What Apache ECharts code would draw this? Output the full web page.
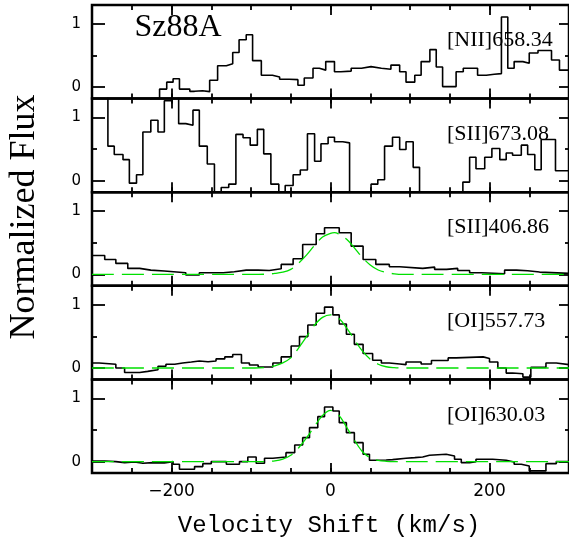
<!DOCTYPE html>
<html>
<head>
<meta charset="utf-8">
<script src="https://cdn.jsdelivr.net/npm/echarts@6/dist/echarts.min.js"></script>
<style>
  html, body { margin: 0; padding: 0; background: #fff; }
  #chart { width: 569px; height: 544px; }
</style>
</head>
<body>
<div id="chart"></div>
<script>
// Tick values shared by every panel
const majorVelTicks = [-200, 0, 200];
const fluxTicks = [0, 1];
const fluxMidTicks = [0.5];

// Histograms: left bin edge (km/s) and normalized flux of that bin
const nii658Vel = [-300, -226, -215, -206, -198, -190, -177, -171, -161, -152, -142, -131, -123, -115, -106, -98, -87, -73, -64, -52, -41, -33, -22, -14, -6, 5, 13, 26, 39, 51, 64, 76, 87, 95, 106, 114, 125, 133, 141, 158, 167, 185, 196, 206, 215, 223, 231, 242, 250, 261, 278, 288];
const nii658Flux = [-0.4, -0.18, -0.03, 0.08, 0.135, -0.03, -0.065, -0.055, -0.07, 0.11, 0.34, 0.37, 0.55, 0.75, 0.83, 0.42, 0.19, 0.16, 0.125, 0.12, 0.03, 0.145, 0.3, 0.27, 0.405, 0.245, 0.255, 0.3, 0.325, 0.3, 0.285, 0.35, 0.245, 0.08, 0.19, 0.405, 0.595, 0.32, 0.01, 0.245, 0.3, 0.19, 0.205, 0.215, 1.11, 0.3, 0.405, 0.38, 0.54, 0.58, 0.43, 0.27];

const sii673Vel = [-300, -280, -272, -261, -253, -244, -236, -226, -217, -209, -200, -191, -182, -173, -165, -155, -146, -137.5, -128, -119, -110, -101, -92, -84, -75, -65, -57, -47, -38, -29, -20, -12, -3, 5, 15.5, 24, 51, 59.5, 68, 78, 87, 95, 104, 112, 166.5, 175, 183, 194, 203, 213, 221, 229, 240, 248, 257, 265, 283];
const sii673Flux = [1.6, 0.548, 0.415, 0.335, -0.037, 0.096, 0.771, 0.957, 0.771, 1.266, 1.6, 0.904, 0.878, 1.117, 0.548, 0.266, -0.4, -0.106, -0.053, 0.734, 0.681, 0.564, 0.814, 0.426, -0.053, -0.4, -0.074, 0.096, 0.17, 0.745, 0.309, 0.585, 0.69, 0.617, 0.6, -0.4, -0.053, 0.016, 0.548, 0.69, 0.495, 0.617, 0.213, -0.4, -0.02, 0.372, 0.19, 0.372, 0.51, 0.335, 0.44, 0.404, 0.564, 0.415, 0.176, 0.654, 0.16];

const sii407Vel = [-300, -284, -270, -255, -240, -226, -209, -182, -165, -135, -121, -106, -91, -77, -62, -47, -35, -18, -7.5, 11, 26, 41, 57, 74, 87, 116, 131, 146, 160, 175, 190, 219, 234, 248, 263];
const sii407Flux = [0.3, 0.237, 0.174, 0.095, 0.068, 0.053, 0.026, -0.01, 0.026, 0.042, 0.068, 0.068, 0.063, 0.089, 0.158, 0.247, 0.474, 0.642, 0.737, 0.658, 0.447, 0.237, 0.158, 0.121, 0.095, 0.116, 0.079, 0.095, 0.063, 0.026, 0.01, 0.068, 0.058, 0.037, 0.016];

const oi557Vel = [-300, -291, -270, -259, -240, -230, -217, -207, -196, -186, -175, -165, -154, -144, -133, -123, -112, -102, -91, -72.5, -62, -49.5, -39, -28.5, -18, -7.5, 3, 11, 20, 30, 41, 53, 64, 74, 87, 95, 114, 127, 148, 158, 192, 200, 210.5, 221, 229, 242, 252, 271, 284];
const oi557Flux = [0.08, 0.059, 0, -0.07, -0.053, -0.027, 0.027, 0.059, 0.08, 0.096, 0.112, 0.1, 0.112, 0.144, 0.176, 0.214, 0.08, 0.048, 0.016, 0.08, 0.176, 0.348, 0.497, 0.679, 0.866, 0.963, 0.84, 0.695, 0.535, 0.374, 0.23, 0.123, 0.08, 0.064, 0.053, 0.096, 0.064, 0.118, 0.16, 0.176, 0.15, 0.096, 0, -0.08, -0.09, -0.144, 0.01, 0.08, 0.053];

const oi630Vel = [-300, -284, -270, -259, -246.5, -236, -223.5, -209, -198, -190, -171, -160.6, -150, -131, -114.5, -104, -93.5, -83, -72.5, -56, -45, -35, -26.4, -16, -7.5, 3, 11, 20, 30, 41, 49, 59.5, 70, 78, 95, 106, 116, 124.5, 145.5, 156, 164.5, 175, 183, 204, 221, 231, 240, 250, 271, 284];
const oi630Flux = [0.01, 0, -0.016, -0.005, -0.026, -0.016, -0.02, 0, -0.042, -0.121, -0.079, -0.032, 0, -0.042, 0, 0.074, -0.026, 0.053, 0.074, 0.142, 0.263, 0.379, 0.537, 0.711, 0.863, 0.8, 0.616, 0.458, 0.3, 0.116, 0.021, 0.026, 0.032, 0.053, 0.063, 0.074, 0.1, 0.116, 0.089, 0.037, -0.016, 0, 0.037, 0.021, -0.005, -0.042, -0.068, -0.147, -0.032, 0];

// Fitted line profiles (green), sampled along velocity
const sii407FitVel = [-300, -90, -80, -70, -60, -50, -40, -30, -20, -10, 0, 5, 10, 20, 30, 40, 50, 60, 70, 80, 90, 300];
const sii407Fit = [0, 0, 0.005, 0.015, 0.035, 0.08, 0.18, 0.31, 0.46, 0.59, 0.65, 0.66, 0.64, 0.56, 0.42, 0.27, 0.15, 0.07, 0.03, 0.01, 0, 0];

const oi557FitVel = [-300, -100, -90, -80, -70, -60, -50, -40, -30, -20, -10, 0, 10, 20, 30, 40, 50, 60, 70, 80, 90, 300];
const oi557Fit = [0, 0, 0.003, 0.012, 0.035, 0.08, 0.16, 0.32, 0.5, 0.68, 0.8, 0.84, 0.79, 0.64, 0.45, 0.27, 0.14, 0.06, 0.02, 0.005, 0, 0];

const oi630FitVel = [-300, -90, -80, -70, -60, -50, -40, -30, -20, -10, 0, 10, 20, 30, 40, 50, 60, 70, 80, 300];
const oi630Fit = [0, 0, 0.003, 0.012, 0.04, 0.1, 0.22, 0.38, 0.56, 0.73, 0.81, 0.74, 0.55, 0.34, 0.16, 0.06, 0.02, 0.005, 0, 0];

const panels = [
  { label: '[NII]658.34', vel: nii658Vel, flux: nii658Flux },
  { label: '[SII]673.08', vel: sii673Vel, flux: sii673Flux },
  { label: '[SII]406.86', vel: sii407Vel, flux: sii407Flux, fitVel: sii407FitVel, fit: sii407Fit },
  { label: '[OI]557.73', vel: oi557Vel, flux: oi557Flux, fitVel: oi557FitVel, fit: oi557Fit },
  { label: '[OI]630.03', vel: oi630Vel, flux: oi630Flux, fitVel: oi630FitVel, fit: oi630Fit }
];

// Layout of the stacked panels
const PLOT_LEFT = 92;
const PLOT_WIDTH = 478;
const PANEL_TOP = 5;
const PANEL_H = 93.6;
const VEL_MIN = -300, VEL_MAX = 300;
const FLUX_MIN = -0.18, FLUX_MAX = 1.3;
const N = panels.length;

const tickLine = () => ({ color: '#000', width: 1.8 });
const grids = [], xAxes = [], yAxes = [], series = [], graphics = [];

function xAxis(gridIndex, position, extra) {
  return Object.assign({
    type: 'value', gridIndex, position, min: VEL_MIN, max: VEL_MAX,
    axisLine: { show: false, onZero: false }, splitLine: { show: false },
    axisLabel: { show: false }
  }, extra);
}
function yAxis(gridIndex, position, extra) {
  return Object.assign({
    type: 'value', gridIndex, position, min: FLUX_MIN, max: FLUX_MAX,
    axisLine: { show: false, onZero: false }, splitLine: { show: false },
    axisLabel: { show: false }
  }, extra);
}

// framed panels carrying the data and the long ticks
panels.forEach((p, i) => {
  grids.push({ left: PLOT_LEFT, top: PANEL_TOP + i * PANEL_H, width: PLOT_WIDTH, height: PANEL_H,
    show: true, borderColor: '#000', borderWidth: 2.5 });
});
// overlays carrying the short ticks
panels.forEach((p, i) => {
  grids.push({ left: PLOT_LEFT, top: PANEL_TOP + i * PANEL_H, width: PLOT_WIDTH, height: PANEL_H, show: false });
});

panels.forEach((p, i) => {
  const isBottom = i === N - 1;
  xAxes.push(xAxis(i, 'bottom', {
    axisTick: { show: true, inside: true, length: 10, customValues: majorVelTicks, lineStyle: tickLine() },
    axisLabel: isBottom ? {
      show: true, customValues: majorVelTicks, margin: 10, color: '#000',
      fontFamily: 'DejaVu Sans', fontSize: 17,
      formatter: v => String(v).replace('-', '\u2212')
    } : { show: false }
  }));
  xAxes.push(xAxis(i, 'top', {
    axisTick: { show: true, inside: true, length: 10, customValues: majorVelTicks, lineStyle: tickLine() }
  }));
  yAxes.push(yAxis(i, 'left', {
    axisTick: { show: true, inside: true, length: 13, customValues: fluxTicks, lineStyle: tickLine() },
    axisLabel: { show: true, customValues: fluxTicks, margin: 11, color: '#000',
      fontFamily: 'DejaVu Sans', fontSize: 15 }
  }));
  yAxes.push(yAxis(i, 'right', {
    axisTick: { show: true, inside: true, length: 10, customValues: fluxTicks, lineStyle: tickLine() }
  }));
});
panels.forEach((p, i) => {
  const g = N + i;
  xAxes.push(xAxis(g, 'bottom', { interval: 50,
    axisTick: { show: true, inside: true, length: 5, lineStyle: tickLine() } }));
  xAxes.push(xAxis(g, 'top', { interval: 50,
    axisTick: { show: true, inside: true, length: 5, lineStyle: tickLine() } }));
  yAxes.push(yAxis(g, 'left', {
    axisTick: { show: true, inside: true, length: 5, customValues: fluxMidTicks, lineStyle: tickLine() } }));
  yAxes.push(yAxis(g, 'right', {
    axisTick: { show: true, inside: true, length: 4, customValues: fluxMidTicks, lineStyle: tickLine() } }));
});

panels.forEach((p, i) => {
  const steps = p.vel.map((v, k) => [v, p.flux[k]]);
  steps.push([VEL_MAX, p.flux[p.flux.length - 1]]);
  series.push({
    type: 'line', xAxisIndex: 2 * i, yAxisIndex: 2 * i, data: steps, step: 'end',
    symbol: 'none', clip: true, silent: true, animation: false,
    lineStyle: { color: '#000', width: 1.6 }, z: 3
  });
  if (p.fit) {
    series.push({
      type: 'line', xAxisIndex: 2 * i, yAxisIndex: 2 * i,
      data: p.fitVel.map((v, k) => [v, p.fit[k]]),
      smooth: 0.35, symbol: 'none', clip: true, silent: true, animation: false,
      lineStyle: { color: '#00e000', width: 1.3, type: [22, 8] }, z: 4
    });
  }
  graphics.push({
    type: 'text', x: 447, y: PANEL_TOP + i * PANEL_H + 35.5,
    style: { text: p.label, font: '22px "Liberation Serif"', fill: '#000',
      align: 'left', verticalAlign: 'middle' }
  });
});

graphics.push({
  type: 'text', x: 178, y: 28,
  style: { text: 'Sz88A', font: '32px "Liberation Serif"', fill: '#000',
    align: 'center', verticalAlign: 'middle' }
});
graphics.push({
  type: 'text', x: 329, y: 526,
  style: { text: 'Velocity Shift (km/s)', font: '24px "Liberation Mono"', fill: '#000',
    align: 'center', verticalAlign: 'middle' }
});
graphics.push({
  type: 'text', x: 25, y: 217, rotation: Math.PI / 2,
  style: { text: 'Normalized Flux', font: '36px "Liberation Serif"', fill: '#000',
    align: 'center', verticalAlign: 'middle' }
});

const chart = echarts.init(document.getElementById('chart'), null, { renderer: 'canvas' });
chart.setOption({
  animation: false,
  backgroundColor: '#fff',
  grid: grids,
  xAxis: xAxes,
  yAxis: yAxes,
  series,
  graphic: graphics
});
</script>
</body>
</html>
